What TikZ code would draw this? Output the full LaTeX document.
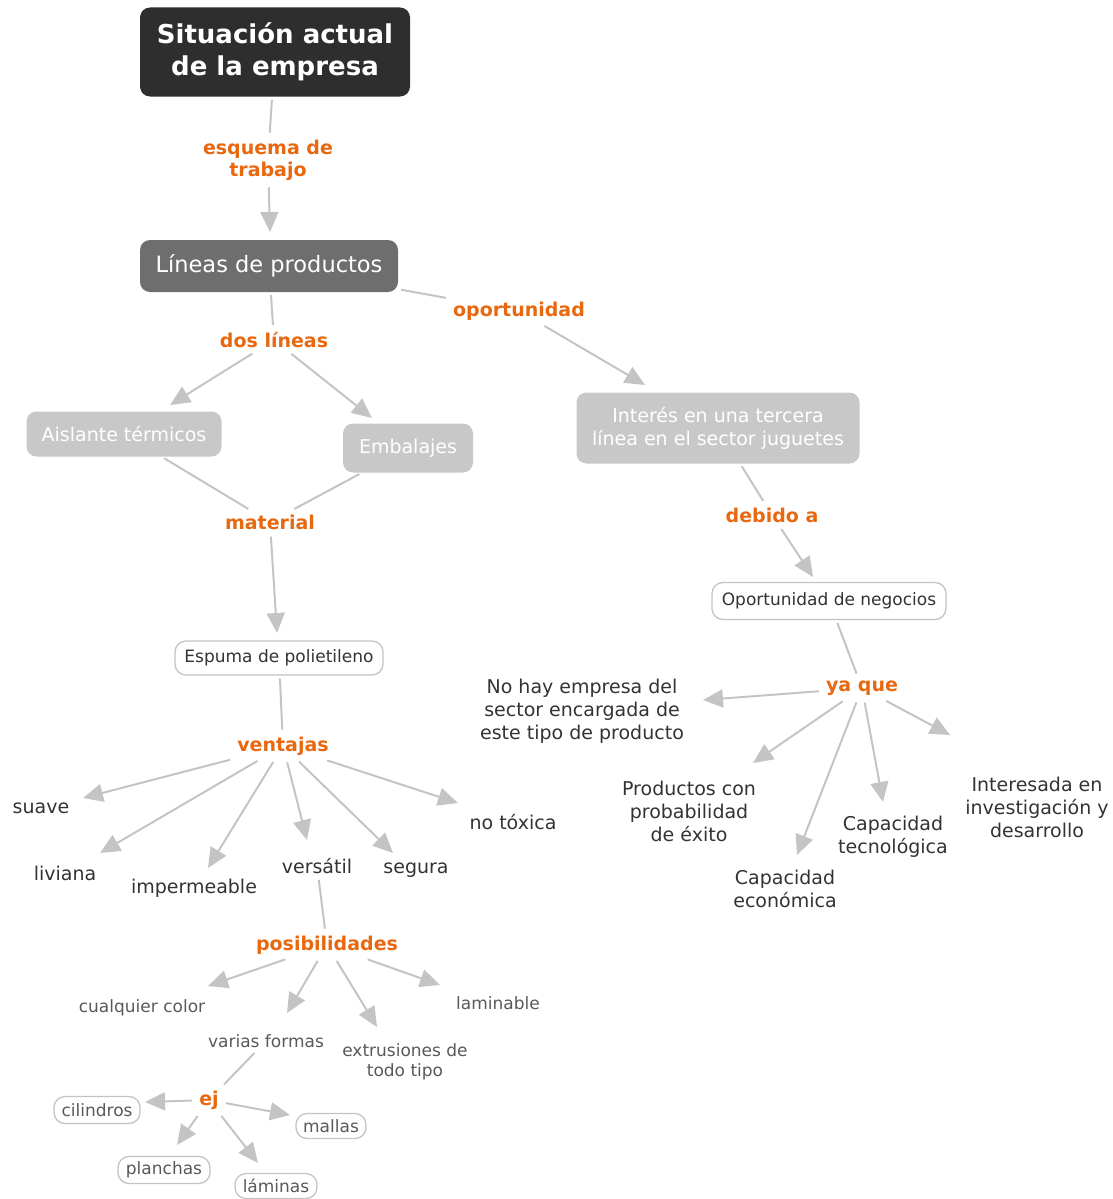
\documentclass[tikz,border=0pt]{standalone}
\usepackage{fontspec}
\setmainfont{DejaVu Sans}
\usetikzlibrary{arrows.meta,calc}
\definecolor{orangelbl}{HTML}{E8680F}
\definecolor{darkbox}{HTML}{2E2E2E}
\definecolor{midbox}{HTML}{6E6E6E}
\definecolor{lightbox}{HTML}{C8C8C8}
\definecolor{linkgray}{HTML}{C4C4C4}
\definecolor{textdark}{HTML}{333333}
\definecolor{textmid}{HTML}{595959}
\tikzset{
  darknode/.style={fill=darkbox, text=white, rounded corners=10pt, align=center,
    font=\fontsize{26}{32}\selectfont\bfseries, inner sep=2pt},
  midnode/.style={fill=midbox, text=white, rounded corners=10pt, align=center,
    font=\fontsize{22.5}{27}\selectfont, inner sep=2pt},
  lightnode/.style={fill=lightbox, text=white, rounded corners=10pt, align=center,
    font=\fontsize{19}{23}\selectfont, inner sep=2pt},
  outlnode/.style={draw=linkgray, line width=1.3pt, fill=white, text=textdark,
    rounded corners=11pt, align=center, font=\fontsize{17}{20}\selectfont, inner sep=2pt},
  smallbox/.style={draw=linkgray, line width=1.3pt, fill=white, text=textmid,
    rounded corners=11pt, align=center, font=\fontsize{17}{20}\selectfont, inner sep=2pt},
  linklbl/.style={text=orangelbl, font=\fontsize{19}{22}\selectfont\bfseries, align=center, inner sep=4pt},
  leaf/.style={text=textdark, font=\fontsize{19}{23}\selectfont, align=center, inner sep=3pt},
  smleaf/.style={text=textmid, font=\fontsize{17}{20}\selectfont, align=center, inner sep=3pt},
  link/.style={draw=linkgray, line width=2pt, shorten <=3pt, shorten >=3pt},
  arrowlink/.style={draw=linkgray, line width=2pt, shorten <=3pt,
    -{Triangle[length=20pt,width=18pt]}},
}
\begin{document}
\begin{tikzpicture}[x=1pt, y=-1pt]
\useasboundingbox (0,0) rectangle (1112,1199);

% upper concepts
\node[darknode, minimum width=270pt, minimum height=89pt] (sit) at (275,52) {Situación actual\\de la empresa};
\node[linklbl] (esq) at (268,160) {esquema de\\trabajo};
\node[midnode, minimum width=258pt, minimum height=52pt] (lin) at (269,266) {Líneas de productos};
\node[linklbl] (dos) at (274,340) {dos líneas};
\node[linklbl] (opo) at (519,311) {oportunidad};
\node[lightnode, minimum width=195pt, minimum height=45pt] (ais) at (124,434) {Aislante térmicos};
\node[lightnode, minimum width=130pt, minimum height=49pt] (emb) at (408,448) {Embalajes};
\node[lightnode, minimum width=283pt, minimum height=71pt] (int) at (718,428) {Interés en una tercera\\línea en el sector juguetes};
\node[linklbl] (mat) at (270,522) {material};
\node[outlnode, minimum width=208pt, minimum height=34pt] (esp) at (279,658) {Espuma de polietileno};
\node[linklbl] (ven) at (283,746) {ventajas};

% advantages of the foam
\node[leaf] (sua) at (41,808) {suave};
\node[leaf] (liv) at (65,873) {liviana};
\node[leaf] (imp) at (194,888) {impermeable};
\node[leaf] (ver) at (317,866) {versátil};
\node[leaf] (seg) at (416,870) {segura};
\node[leaf] (tox) at (513,822) {no tóxica};

% possibilities of a versatile material
\node[linklbl] (pos) at (327,945) {posibilidades};
\node[smleaf] (cua) at (142,1008) {cualquier color};
\node[smleaf] (var) at (266,1041) {varias formas};
\node[smleaf] (ext) at (405,1062) {extrusiones de\\todo tipo};
\node[smleaf] (lam) at (498,1003) {laminable};
\node[linklbl] (ej) at (209,1100) {ej};
\node[smallbox, minimum width=86pt, minimum height=27pt] (cil) at (97,1110) {cilindros};
\node[smallbox, minimum width=92pt, minimum height=27pt] (pla) at (164,1170) {planchas};
\node[smallbox, minimum width=82pt, minimum height=25pt] (lmn) at (276,1186) {láminas};
\node[smallbox, minimum width=70pt, minimum height=25pt] (mal) at (331,1126) {mallas};

% business opportunity branch
\node[linklbl] (deb) at (772,515) {debido a};
\node[outlnode, minimum width=234pt, minimum height=37pt] (opn) at (829,601) {Oportunidad de negocios};
\node[linklbl] (yaq) at (862,688) {ya que};
\node[leaf] (noh) at (582,711) {No hay empresa del\\sector encargada de\\este tipo de producto};
\node[leaf] (pro) at (689,811) {Productos con\\probabilidad\\de éxito};
\node[leaf] (eco) at (785,889) {Capacidad\\económica};
\node[leaf] (tec) at (893,837) {Capacidad\\tecnológica};
\node[leaf] (inv) at (1037,807) {Interesada en\\investigación y\\desarrollo};

% connectors
\draw[link] (sit) -- (esq);
\draw[arrowlink] (esq) -- ($(lin)+(1,-34)$);
\draw[link] (lin) -- (dos);
\draw[arrowlink] (dos) -- ($(ais)+(46,-29)$);
\draw[arrowlink] (dos) -- ($(emb)+(-36,-30)$);
\draw[link] (lin) -- (opo);
\draw[arrowlink] (opo) -- ($(int)+(-73,-43)$);
\draw[link] (ais) -- (mat);
\draw[link] (emb) -- (mat);
\draw[arrowlink] (mat) -- ($(esp)+(-2,-25)$);
\draw[link] (esp) -- (ven);
\draw[arrowlink] (ven) -- ($(sua)+(42,-10)$);
\draw[arrowlink] (ven) -- ($(liv)+(35,-20)$);
\draw[arrowlink] (ven) -- ($(imp)+(14,-20)$);
\draw[arrowlink] (ven) -- ($(ver)+(-10,-26)$);
\draw[arrowlink] (ven) -- ($(seg)+(-23,-17)$);
\draw[arrowlink] (ven) -- ($(tox)+(-55,-19)$);
\draw[link] (ver) -- (pos);
\draw[arrowlink] (pos) -- ($(cua)+(66,-22)$);
\draw[arrowlink] (pos) -- ($(var)+(21,-28)$);
\draw[arrowlink] (pos) -- ($(ext)+(-28,-35)$);
\draw[arrowlink] (pos) -- ($(lam)+(-58,-18)$);
\draw[link] (var) -- (ej);
\draw[arrowlink] (ej) -- ($(cil)+(48,-8)$);
\draw[arrowlink] (ej) -- ($(pla)+(13,-25)$);
\draw[arrowlink] (ej) -- ($(lmn)+(-18,-23)$);
\draw[arrowlink] (ej) -- ($(mal)+(-41,-11)$);
\draw[link] (int) -- (deb);
\draw[arrowlink] (deb) -- ($(opn)+(-16,-24)$);
\draw[link] (opn) -- (yaq);
\draw[arrowlink] (yaq) -- ($(noh)+(121,-11)$);
\draw[arrowlink] (yaq) -- ($(pro)+(64,-48)$);
\draw[arrowlink] (yaq) -- ($(eco)+(12,-34)$);
\draw[arrowlink] (yaq) -- ($(tec)+(-10,-35)$);
\draw[arrowlink] (yaq) -- ($(inv)+(-87,-72)$);
\end{tikzpicture}
\end{document}
